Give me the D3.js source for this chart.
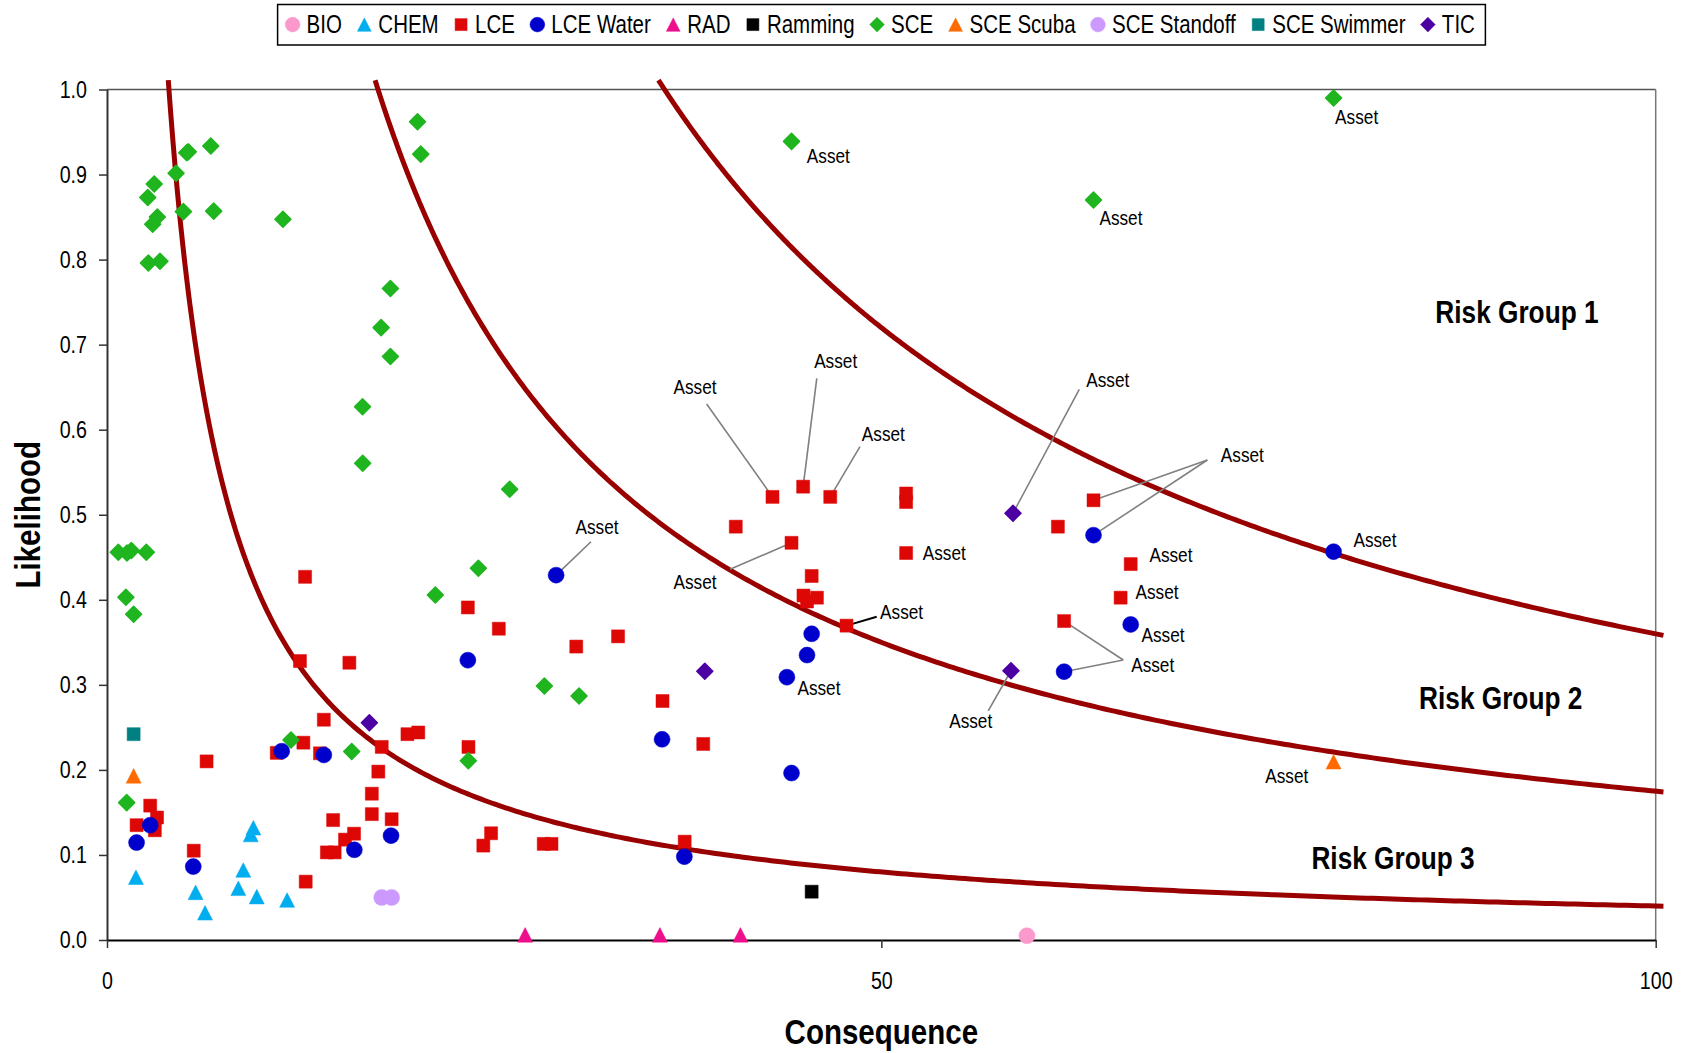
<!DOCTYPE html>
<html><head><meta charset="utf-8">
<script src="https://cdn.jsdelivr.net/npm/d3@7/dist/d3.min.js"></script>
<style>body{margin:0;background:#fff;} svg{display:block;font-family:"Liberation Sans",Arial,Helvetica,sans-serif;}</style>
</head><body><svg id="chart" width="1687" height="1053"></svg>
<script>
// ---------- DATA ----------
const seriesNames = ["BIO","CHEM","LCE","LCE Water","RAD","Ramming","SCE","SCE Scuba","SCE Standoff","SCE Swimmer","TIC"];
const bio = [[59.4,0.005]];
const chem = [[1.87,0.0738],[9.28,0.124],[9.45,0.132],[8.8,0.0823],[8.48,0.0608],[9.67,0.051],[11.63,0.047],[5.72,0.056],[6.33,0.032]];
const lce = [[1.91,0.135],[2.79,0.158],[3.23,0.144],[3.09,0.129],[5.6,0.105],[6.43,0.210],
  [14.0,0.259],[12.68,0.232],[10.96,0.220],[13.75,0.2195],[19.4,0.242],[20.1,0.244],[17.74,0.227],[17.52,0.198],[17.1,0.172],[17.1,0.148],[18.38,0.142],[14.6,0.141],[15.95,0.125],[15.37,0.118],[14.2,0.103],[14.7,0.103],[12.83,0.0686],
  [12.79,0.427],[12.46,0.328],[15.65,0.326],
  [23.3,0.391],[25.3,0.366],[30.3,0.345],[33.0,0.357],[35.87,0.281],[38.5,0.2305],[23.34,0.227],[24.8,0.1255],[24.3,0.111],[28.2,0.113],[28.7,0.113],[37.3,0.1156],[40.6,0.486],
  [42.97,0.521],[44.95,0.533],[46.7,0.521],[51.6,0.525],[51.6,0.515],[44.2,0.467],[51.6,0.455],[45.5,0.428],[44.97,0.405],[45.84,0.4025],[45.2,0.398],[47.75,0.3696],
  [61.4,0.486],[61.8,0.375],[63.7,0.517],[66.1,0.442],[65.45,0.4025]];
const lceWater = [[2.79,0.135],[1.91,0.1145],[5.57,0.0863],[11.28,0.222],[14.0,0.2176],[15.97,0.106],[18.34,0.1227],
  [29.0,0.429],[23.3,0.329],[35.84,0.236],[37.28,0.098],
  [45.5,0.360],[45.2,0.335],[43.9,0.309],[44.2,0.1963],
  [63.7,0.476],[79.2,0.4566],[66.1,0.371],[61.8,0.3155]];
const rad = [[27.0,0.006],[35.7,0.006],[40.9,0.006]];
const ramming = [[45.5,0.0568]];
const sce = [[0.73,0.456],[1.29,0.455],[1.57,0.458],[2.54,0.456],[1.22,0.403],[1.72,0.383],[1.27,0.1615],
  [2.67,0.796],[3.42,0.798],[2.95,0.8415],[3.25,0.85],[2.63,0.873],[3.05,0.889],[4.46,0.9015],[5.15,0.9257],[5.25,0.9269],[6.7,0.9336],[4.93,0.8564],[6.89,0.857],[11.36,0.8474],
  [20.05,0.962],[20.26,0.924],[18.3,0.766],[17.7,0.72],[18.3,0.686],[16.5,0.627],[16.51,0.5605],[26.0,0.530],[23.98,0.437],[21.2,0.4056],[28.24,0.2987],[30.48,0.2869],[11.88,0.2352],[15.8,0.2216],[23.33,0.2108],
  [44.2,0.939],[63.7,0.870],[79.2,0.990]];
const sceScuba = [[1.72,0.193],[79.2,0.2096]];
const sceStandoff = [[17.74,0.050],[18.38,0.050]];
const sceSwimmer = [[1.72,0.242]];
const tic = [[16.94,0.2555],[38.6,0.316],[58.5,0.5017],[58.37,0.3166]];

const riskK = [36, 17.5, 4];           // risk = likelihood * consequence
const riskLabels = [["Risk Group 1",85.77,0.7255],["Risk Group 2",84.72,0.2716],["Risk Group 3",77.77,0.0835]];
const xTicks = [0,50,100];
const yTicks = [0,0.1,0.2,0.3,0.4,0.5,0.6,0.7,0.8,0.9,1.0];
const assetNotes = [
 {pos:[46.58,0.9218]},
 {pos:[80.69,0.9686]},
 {pos:[65.47,0.8497]},
 {pos:[37.97,0.6502], from:[38.72,0.6303], to:[[42.97,0.521]]},
 {pos:[47.05,0.6808], from:[45.83,0.6604], to:[[44.95,0.533]]},
 {pos:[50.13,0.5958], from:[48.62,0.58], to:[[46.7,0.521]]},
 {pos:[64.62,0.6584], from:[62.78,0.6475], to:[[58.5,0.5017]]},
 {pos:[73.31,0.5703], from:[71.05,0.5644], to:[[63.7,0.517],[63.7,0.476]]},
 {pos:[31.64,0.486], from:[31.25,0.4683], to:[[29.0,0.429]]},
 {pos:[37.97,0.4218], from:[40.23,0.4359], to:[[44.2,0.467]]},
 {pos:[54.06,0.4554]},
 {pos:[68.7,0.4527]},
 {pos:[81.87,0.4711]},
 {pos:[67.8,0.4095]},
 {pos:[51.31,0.386], from:[49.7,0.3801], to:[[47.75,0.3696]], dark:true},
 {pos:[68.19,0.3594]},
 {pos:[67.52,0.3233], from:[65.62,0.3292], to:[[61.8,0.375],[61.8,0.3155]]},
 {pos:[45.97,0.2966]},
 {pos:[55.77,0.2575], from:[56.9,0.2693], to:[[58.37,0.3166]]},
 {pos:[76.18,0.1932]}
];
const seriesData = [bio,chem,lce,lceWater,rad,ramming,sce,sceScuba,sceStandoff,sceSwimmer,tic];

// ---------- STYLE ----------
const styles = [
 {shape:"circle",  color:"#fb99cc"},
 {shape:"triangle",color:"#00adef"},
 {shape:"square",  color:"#dd0806"},
 {shape:"circle",  color:"#0000cc"},
 {shape:"triangle",color:"#ee0f8c"},
 {shape:"square",  color:"#000000"},
 {shape:"diamond", color:"#1fb51f"},
 {shape:"triangle",color:"#ff6a00"},
 {shape:"circle",  color:"#cc99ff"},
 {shape:"square",  color:"#008080"},
 {shape:"diamond", color:"#4c00a4"}
];
const NX = 0.82; // narrow font emulation
const svg = d3.select("#chart");
const x = d3.scaleLinear().domain([0,100]).range([107,1655.7]);
const y = d3.scaleLinear().domain([0,1]).range([940,89.5]);

function shapePath(shape, s) {
  if (shape === "square") { const h = 6.5*s; return `M${-h},${-h}H${h}V${h}H${-h}Z`; }
  if (shape === "diamond") { const h = 8*s; return `M0,${-h}L${h},0L0,${h}L${-h},0Z`; }
  if (shape === "triangle") { const w = 7.5*s, h = 7.3*s; return `M0,${-h}L${w},${h}L${-w},${h}Z`; }
  const r = 8*s; return `M${r},0A${r},${r} 0 1,1 ${-r},0A${r},${r} 0 1,1 ${r},0Z`;
}
function ntext(parent, px, py, str, size, opts={}) {
  const t = parent.append("text")
    .attr("transform", `translate(${px},${py})${opts.rotate?` rotate(${opts.rotate})`:""} scale(${NX},1)`)
    .attr("font-size", size)
    .attr("font-weight", opts.bold ? "bold" : null)
    .attr("text-anchor", opts.anchor || "start")
    .attr("fill", "#000")
    .text(str);
  if (opts.dy) t.attr("dy", opts.dy);
  return t;
}

// frame (top/right)
svg.append("line").attr("x1",x(0)).attr("x2",x(100)).attr("y1",y(1)).attr("y2",y(1)).attr("stroke","#555").attr("stroke-width",1.5);
svg.append("line").attr("x1",x(100)).attr("x2",x(100)).attr("y1",y(1)).attr("y2",y(0)).attr("stroke","#777").attr("stroke-width",1.5);

// axes
const gy = svg.append("g").attr("transform",`translate(${x(0)},0)`)
  .call(d3.axisLeft(y).tickValues(yTicks).tickFormat(d3.format(".1f")).tickSize(8).tickSizeOuter(0));
gy.select(".domain").attr("stroke","#333").attr("stroke-width",2);
gy.selectAll(".tick line").attr("stroke","#333").attr("stroke-width",1.5);
gy.selectAll(".tick text").attr("font-size",24).attr("font-family",null).attr("fill","#000")
  .attr("x",-20/NX).attr("transform",`scale(${NX},1)`);

const gx = svg.append("g").attr("transform",`translate(0,${y(0)})`)
  .call(d3.axisBottom(x).tickValues(xTicks).tickSize(8).tickSizeOuter(0).tickPadding(24));
gx.select(".domain").attr("stroke","#000").attr("stroke-width",2);
gx.selectAll(".tick line").attr("stroke","#333").attr("stroke-width",1.5);
gx.selectAll(".tick text").attr("font-size",24).attr("font-family",null).attr("fill","#000")
  .attr("transform",`scale(${NX},1)`).attr("x", 0);

// risk curves
const line = d3.line().x(d=>x(d[0])).y(d=>y(d[1]));
riskK.forEach(k => {
  const x0 = k/1.011;
  const pts = d3.range(0, 401).map(i => {
    const cx = x0 + (100.5 - x0) * Math.pow(i/400, 2);
    return [cx, k/cx];
  });
  svg.append("path").datum(pts).attr("d", line).attr("fill","none")
    .attr("stroke","#990000").attr("stroke-width",5);
});

// leader lines
const gl = svg.append("g");
assetNotes.filter(n=>n.from).forEach(n => {
  n.to.forEach(t => {
    gl.append("line").attr("x1",x(n.from[0])).attr("y1",y(n.from[1]))
      .attr("x2",x(t[0])).attr("y2",y(t[1]))
      .attr("stroke", n.dark ? "#000" : "#808080").attr("stroke-width", n.dark ? 2 : 1.6);
  });
});

// markers
seriesData.forEach((data, i) => {
  const st = styles[i];
  svg.append("g").selectAll("path").data(data).join("path")
    .attr("transform", d=>`translate(${x(d[0])},${y(d[1])})`)
    .attr("d", shapePath(st.shape, 1))
    .attr("fill", st.color)
    .attr("stroke", st.color).attr("stroke-width", st.shape==="diamond"?1.5:0.5)
    .attr("stroke-linejoin","round");
});

// asset labels
const ga = svg.append("g");
assetNotes.forEach(n => ntext(ga, x(n.pos[0]), y(n.pos[1]), "Asset", 21, {anchor:"middle", dy:"0.35em"}));

// risk group labels
riskLabels.forEach(r => ntext(svg, x(r[1]), y(r[2]), r[0], 32, {bold:true}));

// axis titles
ntext(svg, (x(0)+x(100))/2, 1044, "Consequence", 36, {bold:true, anchor:"middle"});
ntext(svg, 40, (y(0)+y(1))/2, "Likelihood", 36, {bold:true, anchor:"middle", rotate:-90});

// legend
const lg = svg.append("g");
const box = lg.append("rect");
let cx = 292.6;
const ly = 24.6;
const gapAfter = 22.4;
seriesNames.forEach((name, i) => {
  const st = styles[i];
  lg.append("path").attr("transform",`translate(${cx},${ly})`).attr("d", shapePath(st.shape, 0.92))
    .attr("fill", st.color).attr("stroke", st.color).attr("stroke-width",0.5);
  const t = ntext(lg, cx + 14, 33.4, name, 25);
  const w = t.node().getComputedTextLength() * NX;
  cx = cx + 14 + w + gapAfter;
});
const right = cx - gapAfter + 10.5;
box.attr("x", 277.6).attr("y", 4.5).attr("width", right - 277.6).attr("height", 40.5)
  .attr("fill","#fff").attr("stroke","#000").attr("stroke-width",1.5);
</script></body></html>
